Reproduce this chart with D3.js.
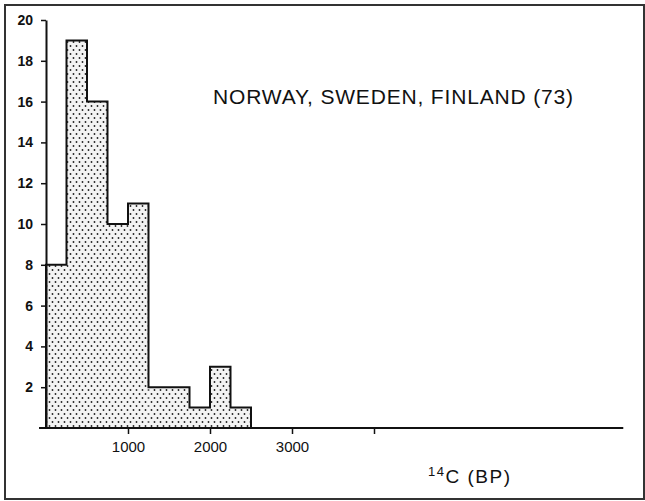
<!DOCTYPE html>
<html>
<head>
<meta charset="utf-8">
<script src="https://cdn.jsdelivr.net/npm/d3@7"></script>
<style>
  body { margin: 0; background: #fff; }
  text { font-family: "Liberation Sans", Arial, sans-serif; fill: #111; }
</style>
</head>
<body>
<script>
// 14C dates, 250-year bins
const binStarts = [0, 250, 500, 750, 1000, 1250, 1500, 1750, 2000, 2250];
const counts = [8, 19, 16, 10, 11, 2, 2, 1, 3, 1];
const binWidth = 250;
const yTicks = [2, 4, 6, 8, 10, 12, 14, 16, 18, 20];
const xTicks = [1000, 2000, 3000, 4000];
const xTickLabels = ["1000", "2000", "3000", ""];
const title = "NORWAY, SWEDEN, FINLAND (73)";

function main() {
    let svg = d3.select("body").append("svg")
        .attr("width", 645)
        .attr("height", 501);

    // frame
    svg.append("rect")
        .attr("x", 5).attr("y", 5)
        .attr("width", 639).attr("height", 494)
        .attr("fill", "none")
        .attr("stroke", "#333")
        .attr("stroke-width", 2);

    let x = d3.scaleLinear().domain([0, 7000]).range([46, 620]);
    let y = d3.scaleLinear().domain([0, 20]).range([428, 20]);

    // dotted fill
    let pat = svg.append("defs").append("pattern")
        .attr("id", "dots")
        .attr("patternUnits", "userSpaceOnUse")
        .attr("width", 6).attr("height", 8);
    pat.append("rect").attr("width", 6).attr("height", 8).attr("fill", "#f3f3f3");
    pat.append("circle").attr("cx", 1.5).attr("cy", 2).attr("r", 0.9).attr("fill", "#222");
    pat.append("circle").attr("cx", 4.5).attr("cy", 6).attr("r", 0.9).attr("fill", "#222");

    svg.selectAll(".bar")
        .data(counts)
        .enter().append("rect")
        .attr("class", "bar")
        .attr("x", (d, i) => x(binStarts[i]))
        .attr("y", d => y(d))
        .attr("width", (d, i) => x(binStarts[i] + binWidth) - x(binStarts[i]))
        .attr("height", d => y(0) - y(d))
        .attr("fill", "url(#dots)");

    // histogram outline
    let pts = [[x(binStarts[0]), y(0)]];
    counts.forEach((c, i) => {
        pts.push([x(binStarts[i]), y(c)]);
        pts.push([x(binStarts[i] + binWidth), y(c)]);
    });
    pts.push([x(binStarts[binStarts.length - 1] + binWidth), y(0)]);
    svg.append("path")
        .attr("d", d3.line()(pts))
        .attr("fill", "none")
        .attr("stroke", "#111")
        .attr("stroke-width", 2);

    // y axis
    let yaxis = d3.axisLeft(y).tickValues(yTicks).tickSize(5).tickSizeOuter(0).tickPadding(8);
    let gy = svg.append("g").attr("transform", "translate(46,0)").call(yaxis);
    gy.select(".domain").attr("stroke", "#111").attr("stroke-width", 2);
    gy.selectAll(".tick line").attr("stroke", "#111").attr("stroke-width", 1.5);
    gy.selectAll(".tick text")
        .style("font-size", "14px")
        .style("font-weight", "bold")
        .style("font-family", "'Liberation Sans', Arial, sans-serif");

    // x axis
    let xaxis = d3.axisBottom(x).tickValues(xTicks)
        .tickFormat((d, i) => xTickLabels[i]).tickSize(6).tickSizeOuter(0).tickPadding(7);
    let gx = svg.append("g").attr("transform", "translate(0,428)").call(xaxis);
    gx.select(".domain").remove();
    gx.selectAll(".tick line").attr("stroke", "#111").attr("stroke-width", 1.5);
    gx.selectAll(".tick text")
        .style("font-size", "15px")
        .style("font-family", "'Liberation Sans', Arial, sans-serif");
    svg.append("line")
        .attr("x1", x(-85)).attr("x2", x(7040))
        .attr("y1", y(0)).attr("y2", y(0))
        .attr("stroke", "#111")
        .attr("stroke-width", 2);

    // title
    svg.append("text")
        .attr("x", 213).attr("y", 104)
        .attr("textLength", 360)
        .attr("lengthAdjust", "spacing")
        .style("font-size", "21px")
        .text(title);

    // axis title 14C (BP)
    let t = svg.append("text")
        .attr("x", 428).attr("y", 483)
        .style("font-size", "19px")
        .style("letter-spacing", "1.5px");
    t.append("tspan").attr("dy", -7).style("font-size", "13px").text("14");
    t.append("tspan").attr("dy", 7).text("C (BP)");
}

main()
</script>
</body>
</html>
